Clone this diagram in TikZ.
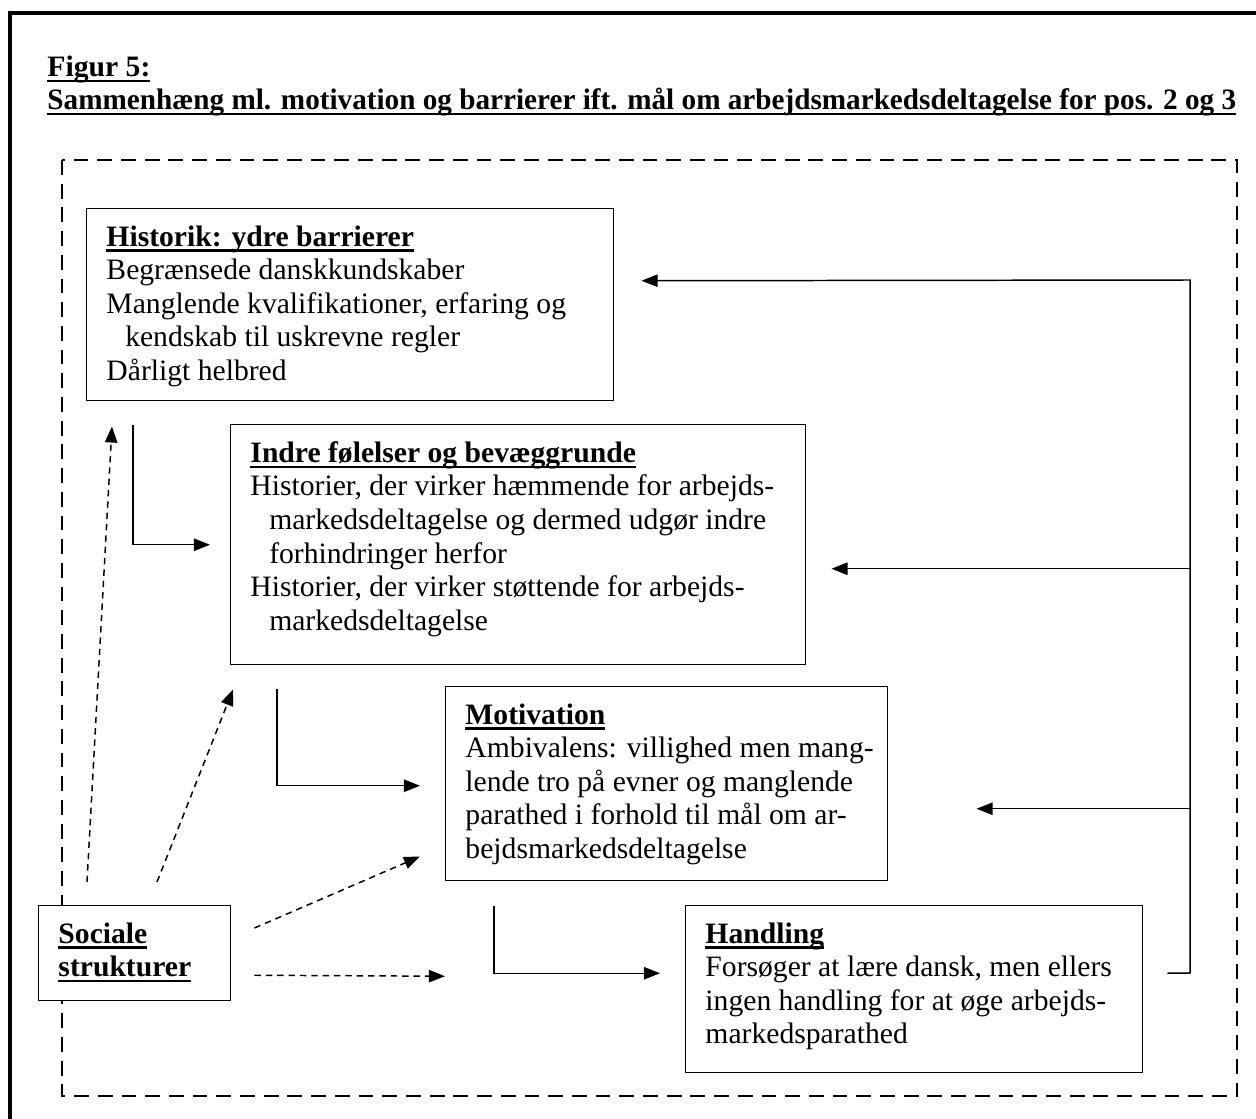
\documentclass[tikz,border=0pt]{standalone}
\usepackage{fontspec}
\setmainfont{Liberation Serif}
\usetikzlibrary{arrows.meta, calc}
\newdimen\pxu \pxu=0.405pt
\newsavebox\undlbox
\newcommand{\undl}[1]{\leavevmode\sbox\undlbox{#1}\rlap{\rule[-2.2pt]{\wd\undlbox}{0.9pt}}\usebox\undlbox}
\newcommand{\boxtext}[3]{\begin{minipage}[t][\dimexpr#2\pxu-13.6pt\relax][t]{#1\pxu}\raggedright\leftskip=8pt #3\end{minipage}}
\newcommand{\hang}{\hspace*{7.6pt}}
\tikzstyle{infobox} = [rectangle, draw=black, line width=0.6pt, fill=white, anchor=north west, inner xsep=0pt, inner ysep=6.8pt, font=\fontsize{12}{13.6}\selectfont]
\tikzstyle{heading} = [anchor=base west, inner sep=0pt, font=\bfseries\fontsize{12}{13.6}\selectfont]
\tikzstyle{arrow} = [line width=0.6pt, -{Triangle[length=6.5pt, width=5pt]}]
\tikzstyle{dasharrow} = [arrow, dash pattern=on 2.6pt off 2pt]
\tikzstyle{border} = [line width=1pt, dash pattern=on 6pt off 3.6pt]

\begin{document}
\begin{tikzpicture}[x=0.405pt, y=-0.405pt]
\useasboundingbox (0,0) rectangle (1256,1119);

% frame and title
\draw [line width=2pt] (10,1119) -- (10,13) -- (1256,13);
\node (fignum) [heading] at (47,77) {\undl{Figur 5:}};
\node (figtitle) [heading] at (47,110) {\scalebox{0.985}[1]{\undl{Sammenhæng ml. motivation og barrierer ift. mål om arbejdsmarkedsdeltagelse for pos. 2 og 3}}};
\draw [border] (62,160) rectangle (1237,1096);

% boxes
\node (hist) [infobox] at (86,208) {\boxtext{527}{192}{\textbf{\undl{Historik: ydre barrierer}}\\
  Begrænsede danskkundskaber\\
  Manglende kvalifikationer, erfaring og\\
  \hang kendskab til uskrevne regler\\
  Dårligt helbred}};
\node (indre) [infobox] at (230,424) {\boxtext{575}{240}{\textbf{\undl{Indre følelser og bevæggrunde}}\\
  Historier, der virker hæmmende for arbejds-\\
  \hang markedsdeltagelse og dermed udgør indre\\
  \hang forhindringer herfor\\
  Historier, der virker støttende for arbejds-\\
  \hang markedsdeltagelse}};
\node (motiv) [infobox] at (445,686) {\boxtext{442}{194}{\textbf{\undl{Motivation}}\\
  Ambivalens: villighed men mang-\\
  lende tro på evner og manglende\\
  parathed i forhold til mål om ar-\\
  bejdsmarkedsdeltagelse}};
\node (hand) [infobox] at (685,905) {\boxtext{457}{167}{\textbf{\undl{Handling}}\\
  Forsøger at lære dansk, men ellers\\
  ingen handling for at øge arbejds-\\
  markedsparathed}};
\node (soc) [infobox] at (38,905) {\boxtext{192}{95}{\textbf{\undl{Sociale}}\\
  \textbf{\undl{strukturer}}}};

% steps
\draw [arrow] ($(hist.south west)+(47,24)$) |- ($(indre.west)+(-20,0)$);
\draw [arrow] ($(indre.south west)+(47,24)$) |- ($(motiv.west)+(-25,2)$);
\draw [arrow] ($(motiv.south west)+(49,25)$) |- ($(hand.west)+(-25,-16)$);

% feedback
\coordinate (back) at (1190,973);
\coordinate (backtop) at (1190,280);
\coordinate (toindre) at ($(indre.east)+(25,24)$);
\coordinate (tomotiv) at ($(motiv.east)+(88,25)$);
\draw [arrow] ($(hand.east)+(24,-16)$) -- (back) -- (backtop) -- ($(hist.east)+(27,-24)$);
\draw [arrow] (back |- toindre) -- (toindre);
\draw [arrow] (back |- tomotiv) -- (tomotiv);

% social structures
\draw [dasharrow] ($(soc.north west)+(49,-23)$) -- ($(hist.south west)+(26,25)$);
\draw [dasharrow] ($(soc.north west)+(119,-23)$) -- ($(indre.south west)+(3,24)$);
\draw [dasharrow] ($(soc.north east)+(23,23)$) -- ($(motiv.south west)+(-25,-25)$);
\draw [dasharrow] ($(soc.east)+(23,22)$) -- ($(hand.west)+(-240,-13)$);

\end{tikzpicture}
\end{document}
